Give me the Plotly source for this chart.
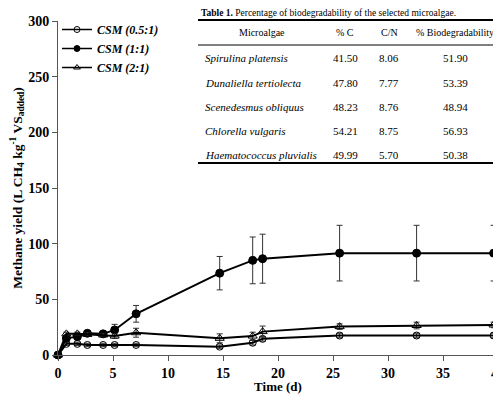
import plotly.graph_objects as go

# ---- data ----
days = [0, 0.76, 1.76, 2.67, 4.1, 5.15, 7.1, 14.7, 17.7, 18.6, 25.6, 32.6, 39.6]
csm_05 = [0, 10, 10, 9, 9, 9, 9, 7.5, 11, 14.5, 17.5, 17.5, 17.5]
csm_05_err = [0, 1.5, 1.5, 1.5, 1.5, 1.5, 1.5, 1.5, 2, 2, 2, 2, 2]
csm_1 = [0, 15, 16.5, 19.5, 19, 22.5, 37, 73.5, 85, 86.5, 91.5, 91.5, 91.5]
csm_1_err = [0, 2, 2, 2, 2, 5, 7.5, 15, 21, 22, 25, 25, 25]
csm_2 = [0, 19, 19, 18.5, 18, 17, 20, 15, 17, 21, 25.5, 26.5, 27]
csm_2_err = [0, 1.5, 1.5, 1.5, 1.5, 2, 4, 4, 3.5, 5, 2.5, 3, 2.5]

series_names = ["CSM (0.5:1)", "CSM (1:1)", "CSM (2:1)"]

microalgae = ["Spirulina platensis", "Dunaliella tertiolecta", "Scenedesmus obliquus",
              "Chlorella vulgaris", "Haematococcus pluvialis"]
pct_c = ["41.50", "47.80", "48.23", "54.21", "49.99"]
c_n = ["8.06", "7.77", "8.76", "8.75", "5.70"]
biodeg = ["51.90", "53.39", "48.94", "56.93", "50.38"]
table_header = ["Microalgae", "% C", "C/N", "% Biodegradability"]
table_title = "<b>Table 1.</b> Percentage of biodegradability of the selected microalgae."

SERIF = "Liberation Serif"

# page offset (default body margin) and geometry in screen pixels
OFF = 8
SW, SH = 501, 394
W, H = SW - OFF, SH - OFF
PLOT_L, PLOT_R, PLOT_T, PLOT_B = 58, 498, 21, 355  # screen pixels
L = PLOT_L - OFF
T = PLOT_T - OFF
R = W - (PLOT_R - OFF)
B = H - (PLOT_B - OFF)
PW, PH = W - L - R, H - T - B


def px(x):
    return (x - OFF - L) / PW


def py(y):
    return (H - B - (y - OFF)) / PH


fig = go.Figure()

styles = [
    dict(symbol="circle-open", size=7, lsize=6),
    dict(symbol="circle", size=8, lsize=6),
    dict(symbol="triangle-up-open", size=8, lsize=6),
]
ys = [csm_05, csm_1, csm_2]
errs = [csm_05_err, csm_1_err, csm_2_err]
for name, y, e, st in zip(series_names, ys, errs, styles):
    fig.add_trace(go.Scatter(
        x=days, y=y, name=name, mode="lines+markers", showlegend=False,
        line=dict(color="black", width=2),
        marker=dict(symbol=st["symbol"], size=st["size"], color="black",
                    line=dict(color="black", width=1)),
        error_y=dict(type="data", array=e, visible=True, color="#333",
                     thickness=1, width=3),
        cliponaxis=False,
    ))
# legend-only entries with smaller symbols
for name, st in zip(series_names, styles):
    fig.add_trace(go.Scatter(
        x=[None], y=[None], name="<b><i>" + name + "</i></b>", mode="lines+markers",
        line=dict(color="black", width=1.5),
        marker=dict(symbol=st["symbol"], size=st["lsize"], color="black",
                    line=dict(color="black", width=1)),
    ))

annotations = []
shapes = []
# table title
annotations.append(dict(text=table_title, x=px(199), y=py(13), xref="paper", yref="paper",
                        xanchor="left", yanchor="middle", showarrow=False,
                        font=dict(family=SERIF, size=9.5, color="black")))
# table header
col_x = [262, 345, 389, 455]
for i, h in enumerate(table_header):
    annotations.append(dict(text=h, x=px(col_x[i]), y=py(33), xref="paper", yref="paper",
                            xanchor="center", yanchor="middle", showarrow=False,
                            font=dict(family=SERIF, size=10, color="black")))
row_y = [58, 83, 107, 131, 155]
for i in range(len(microalgae)):
    annotations.append(dict(text="<i>" + microalgae[i] + "</i>", x=px(203), y=py(row_y[i]),
                            xref="paper", yref="paper", xanchor="left", yanchor="middle",
                            showarrow=False, font=dict(family=SERIF, size=11, color="black")))
    for j, val in enumerate([pct_c[i], c_n[i], biodeg[i]]):
        annotations.append(dict(text=val, x=px(col_x[j + 1]), y=py(row_y[i]),
                                xref="paper", yref="paper", xanchor="center", yanchor="middle",
                                showarrow=False, font=dict(family=SERIF, size=11, color="black")))
for yy, wdt in [(20, 2), (45, 1), (163, 2)]:
    shapes.append(dict(type="line", xref="paper", yref="paper", x0=px(198), x1=px(501),
                       y0=py(yy), y1=py(yy), line=dict(color="black", width=wdt)))

fig.update_layout(
    width=W, height=H,
    margin=dict(l=L, r=R, t=T, b=B, autoexpand=False),
    paper_bgcolor="white", plot_bgcolor="white",
    showlegend=True,
    legend=dict(x=px(57), y=py(15), xanchor="left", yanchor="top",
                bgcolor="rgba(0,0,0,0)", borderwidth=0, tracegroupgap=0,
                itemwidth=30,
                font=dict(family=SERIF, size=12, color="black"),
                ),
    annotations=annotations,
    shapes=shapes,
    xaxis=dict(range=[0, 40], dtick=5, showline=True, linecolor="#555", linewidth=1,
               ticks="outside", ticklen=5, tickcolor="#555", showgrid=False, zeroline=False,
               automargin=False, ticklabeloverflow="allow",
               tickfont=dict(family=SERIF, size=14, color="black", weight="bold"),
               title=dict(text="<b>Time (d)</b>", font=dict(family=SERIF, size=13, color="black"),
                          standoff=6)),
    yaxis=dict(range=[0, 300], dtick=50, showline=True, linecolor="#555", linewidth=1,
               ticks="outside", ticklen=5, tickcolor="#555", showgrid=False, zeroline=False,
               automargin=False,
               tickfont=dict(family=SERIF, size=14, color="black", weight="bold"),
               title=dict(text="<b>Methane yield (L CH<sub>4</sub> kg<sup>-1</sup> VS<sub>added</sub>)</b>",
                          font=dict(family=SERIF, size=13.5, color="black"), standoff=8)),
)

fig.write_html("out.html")
